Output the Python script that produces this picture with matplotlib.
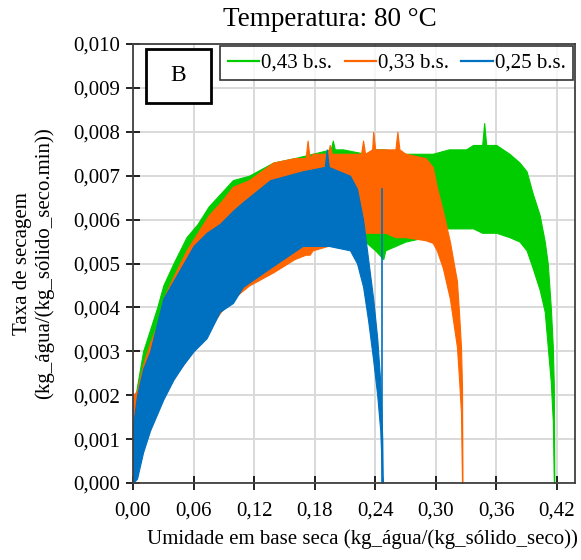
import matplotlib
matplotlib.use("Agg")
import matplotlib.pyplot as plt
from matplotlib.patches import Rectangle

plt.rcParams['font.family'] = ['Liberation Serif', 'DejaVu Serif']

# dados (envoltórias superior/inferior de cada curva)
x_043 = [0.000, 0.004, 0.010, 0.017, 0.024, 0.030, 0.040, 0.053, 0.064, 0.075,
         0.087, 0.099, 0.115, 0.139, 0.160, 0.178, 0.196, 0.198, 0.200, 0.208,
         0.230, 0.240, 0.248, 0.250, 0.270, 0.290, 0.297, 0.313, 0.330, 0.337,
         0.346, 0.348, 0.350, 0.360, 0.373, 0.383, 0.390, 0.396, 0.403, 0.408,
         0.411, 0.414, 0.416, 0.417, 0.4175]
sup_043 = [0.0016, 0.0022, 0.0030, 0.0035, 0.0040, 0.0045, 0.0050, 0.0056, 0.0059, 0.0063,
           0.0066, 0.0069, 0.0070, 0.0073, 0.0074, 0.0075, 0.0076, 0.0078, 0.0076, 0.0076,
           0.0075, 0.0076, 0.0076, 0.0076, 0.0075, 0.0075, 0.0075, 0.0076, 0.0076, 0.0077,
           0.0077, 0.0082, 0.0077, 0.0077, 0.0075, 0.0073, 0.0071, 0.0066, 0.0061, 0.0055,
           0.0050, 0.0040, 0.0031, 0.0022, 0.0000]
inf_043 = [0.0006, 0.0009, 0.0013, 0.0016, 0.0019, 0.0021, 0.0025, 0.0030, 0.0034, 0.0036,
           0.0040, 0.0043, 0.0046, 0.0049, 0.0052, 0.0054, 0.0055, 0.0055, 0.0055, 0.0055,
           0.0055, 0.0053, 0.0051, 0.0053, 0.0055, 0.0056, 0.0058, 0.0058, 0.0058, 0.0058,
           0.0057, 0.0057, 0.0057, 0.0057, 0.0056, 0.0055, 0.0053, 0.0049, 0.0044, 0.0039,
           0.0031, 0.0023, 0.0014, 0.0000, 0.0000]

x_033 = [0.000, 0.004, 0.010, 0.017, 0.024, 0.030, 0.040, 0.053, 0.064, 0.075,
         0.087, 0.099, 0.115, 0.139, 0.160, 0.171, 0.173, 0.175, 0.178, 0.193,
         0.195, 0.197, 0.208, 0.226, 0.228, 0.230, 0.237, 0.238, 0.240, 0.250,
         0.260, 0.262, 0.264, 0.270, 0.290, 0.297, 0.301, 0.307, 0.314, 0.321,
         0.323, 0.325, 0.326, 0.3265]
sup_033 = [0.0020, 0.0021, 0.0027, 0.0032, 0.0036, 0.0042, 0.0047, 0.0053, 0.0057, 0.0061,
           0.0064, 0.00675, 0.0069, 0.0073, 0.0074, 0.0074, 0.0078, 0.0074, 0.0075, 0.0075,
           0.0077, 0.0075, 0.0075, 0.0075, 0.0078, 0.0075, 0.0076, 0.0080, 0.0076, 0.0076,
           0.0076, 0.0080, 0.0076, 0.0075, 0.0074, 0.0072, 0.00675, 0.0062, 0.0055, 0.0046,
           0.0039, 0.0031, 0.0022, 0.0000]
inf_033 = [0.0006, 0.0008, 0.0012, 0.0015, 0.0018, 0.0020, 0.0024, 0.0028, 0.0032, 0.0035,
           0.0039, 0.0042, 0.0045, 0.0048, 0.0051, 0.0052, 0.0052, 0.0052, 0.0053, 0.0054,
           0.0054, 0.0055, 0.0055, 0.0057, 0.0057, 0.0057, 0.0057, 0.0057, 0.0057, 0.0057,
           0.0056, 0.0056, 0.0056, 0.0056, 0.00553, 0.00547, 0.0053, 0.0049, 0.0042, 0.0031,
           0.0024, 0.0016, 0.0000, 0.0000]

x_025 = [0.000, 0.004, 0.010, 0.017, 0.030, 0.040, 0.050, 0.060, 0.073, 0.086,
         0.099, 0.109, 0.136, 0.168, 0.190, 0.192, 0.194, 0.215, 0.222, 0.228,
         0.233, 0.238, 0.242, 0.245, 0.247, 0.2475]
sup_025 = [0.0013, 0.0020, 0.0026, 0.0030, 0.0042, 0.0046, 0.0050, 0.0054, 0.0057, 0.0059,
           0.0062, 0.0064, 0.0069, 0.0071, 0.0072, 0.0076, 0.0072, 0.0070, 0.0067, 0.0060,
           0.0051, 0.0042, 0.0033, 0.0023, 0.0010, 0.0000]
inf_025 = [0.0000, 0.0001, 0.0007, 0.0012, 0.0019, 0.00235, 0.0027, 0.0030, 0.0033, 0.0039,
           0.0041, 0.00447, 0.0049, 0.0054, 0.0054, 0.0054, 0.0054, 0.0053, 0.0050, 0.00447,
           0.0037, 0.0028, 0.0020, 0.0012, 0.0000, 0.0000]
# pico isolado da curva 0,25
pico_x = [0.2465, 0.2465]
pico_y = [0.0, 0.0067]

series = [
    ('0,43 b.s.', x_043, sup_043, inf_043, '#00CC00'),
    ('0,33 b.s.', x_033, sup_033, inf_033, '#FF6600'),
    ('0,25 b.s.', x_025, sup_025, inf_025, '#0070C0'),
]

xticks = [0.00, 0.06, 0.12, 0.18, 0.24, 0.30, 0.36, 0.42]
xtick_labels = ['0,00', '0,06', '0,12', '0,18', '0,24', '0,30', '0,36', '0,42']
yticks = [i / 1000 for i in range(11)]
ytick_labels = ['0,%03d' % i for i in range(11)]

fig = plt.figure(figsize=(5.81, 5.60), dpi=100)
ax = fig.add_axes([0.2289, 0.1375, 0.7608, 0.7839])

for nome, xs, sup, inf, cor in series:
    ax.fill_between(xs, inf, sup, color=cor, linewidth=0.8, edgecolor=cor)
    ax.plot([], [], color=cor, lw=1.6, label=nome)
ax.plot(pico_x, pico_y, color='#0070C0', lw=1.2)

ax.set_xlim(0, 0.438)
ax.set_ylim(0, 0.010)
ax.set_xticks(xticks)
ax.set_xticklabels(xtick_labels)
ax.set_yticks(yticks)
ax.set_yticklabels(ytick_labels)
ax.tick_params(direction='inout', length=10, width=1.2, labelsize=15, colors='black')
ax.tick_params(axis='x', pad=8)
ax.tick_params(axis='y', pad=4)
ax.grid(True, color='#d9d9d9', lw=1.4)
ax.set_axisbelow(True)
for s in ax.spines.values():
    s.set_color('#404040')
    s.set_linewidth(1.3)

ax.set_xlabel('Umidade em base seca (kg_água/(kg_sólido_seco))', fontsize=15)
ax.xaxis.set_label_coords(0.52, -0.105)
ax.set_ylabel('Taxa de secagem\n(kg_água/(kg_sólido_seco.min))', fontsize=15,
              linespacing=1.2)
ax.yaxis.set_label_coords(-0.178, 0.5)
fig.text(330 / 581, 1 - 20 / 560, 'Temperatura: 80 °C', fontsize=19.5,
         ha='center', va='center')

ax.add_patch(Rectangle((0.029, 0.866), 0.147, 0.123, transform=ax.transAxes,
                       fill=True, facecolor='white', edgecolor='black', lw=2, zorder=5))
ax.text(0.1025, 0.9275, 'B', transform=ax.transAxes, ha='center', va='center',
        fontsize=17, zorder=6)

leg = ax.legend(loc='upper right', ncol=3, fontsize=15, frameon=True, fancybox=False,
                edgecolor='black', handlelength=1.5, handletextpad=0.1, columnspacing=0.6,
                borderaxespad=0.1, borderpad=0.35)
leg.get_frame().set_linewidth(1.2)

fig.savefig('out.png', dpi=100)
